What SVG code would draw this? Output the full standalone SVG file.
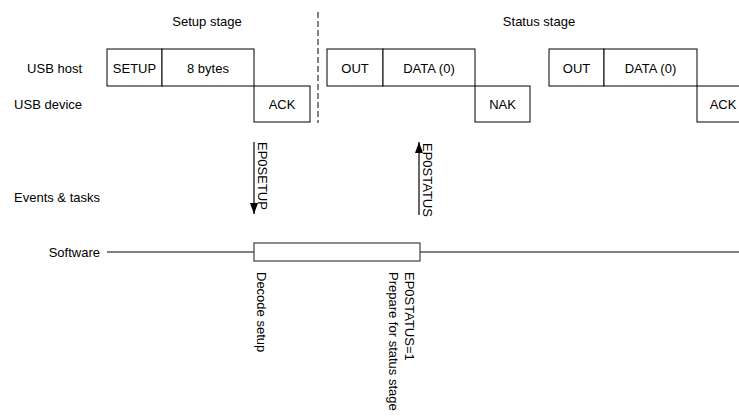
<svg xmlns="http://www.w3.org/2000/svg" width="739" height="416" viewBox="0 0 739 416">
<defs>
<style>
text{font-family:"Liberation Sans",Arial,sans-serif;font-size:13px;fill:#000}
.c{text-anchor:middle}
.r{text-anchor:end}
.box{fill:#fff;stroke:#000;stroke-width:1}
.sw{stroke:#808080;stroke-width:2;fill:none}
.arr{stroke:#000;stroke-width:1.2;fill:none}
</style>
<marker id="ah" markerWidth="11" markerHeight="8" refX="11" refY="4" orient="auto" markerUnits="userSpaceOnUse" viewBox="0 0 11 8">
<path d="M0,0 L11,4 L0,8 z" fill="#000"/>
</marker>
</defs>
<rect width="739" height="416" fill="#fff"/>
<g id="labels">
<text x="207" y="26" class="c">Setup stage</text>
<text x="539" y="26" class="c">Status stage</text>
<text x="82" y="72.5" class="r">USB host</text>
<text x="82" y="109" class="r">USB device</text>
<text x="100" y="202" class="r">Events &amp; tasks</text>
<text x="100" y="256.5" class="r">Software</text>
</g>
<g id="connectors">
<line x1="318" y1="12" x2="318" y2="123" stroke="#000" stroke-width="1" stroke-dasharray="6,3"/>
<line x1="254" y1="142" x2="254" y2="214" class="arr" marker-end="url(#ah)"/>
<line x1="419" y1="215" x2="419" y2="142" class="arr" marker-end="url(#ah)"/>
<line x1="107" y1="252" x2="254" y2="252" class="sw"/>
<line x1="420" y1="252" x2="739" y2="252" class="sw"/>
</g>
<g id="setup-packet">
<rect x="107" y="49" width="55" height="37" class="box"/>
<text x="134.5" y="72.5" class="c">SETUP</text>
<rect x="162" y="49" width="92" height="37" class="box"/>
<text x="208" y="72.5" class="c">8 bytes</text>
<rect x="254" y="86" width="56" height="36" class="box"/>
<text x="282" y="109" class="c">ACK</text>
</g>
<g id="status-1">
<rect x="327" y="49" width="56" height="37" class="box"/>
<text x="355" y="72.5" class="c">OUT</text>
<rect x="383" y="49" width="92" height="37" class="box"/>
<text x="429" y="72.5" class="c">DATA (0)</text>
<rect x="475" y="86" width="55" height="36" class="box"/>
<text x="502.5" y="109" class="c">NAK</text>
</g>
<g id="status-2">
<rect x="549" y="49" width="55" height="37" class="box"/>
<text x="576.5" y="72.5" class="c">OUT</text>
<rect x="604" y="49" width="93" height="37" class="box"/>
<text x="650.5" y="72.5" class="c">DATA (0)</text>
<rect x="697" y="86" width="60" height="36" class="box"/>
<text x="723" y="109" class="c">ACK</text>
</g>
<g id="events">
<text transform="translate(258,142) rotate(90)">EP0SETUP</text>
<text transform="translate(423,143) rotate(90)">EP0STATUS</text>
</g>
<g id="software-task">
<rect x="254" y="243" width="166" height="18" fill="#fff" stroke="#404040" stroke-width="1.2"/>
<text transform="translate(257,272) rotate(90)">Decode setup</text>
<text transform="translate(405,272) rotate(90)">EP0STATUS=1</text>
<text transform="translate(389,272) rotate(90)">Prepare for status stage</text>
</g>
</svg>
